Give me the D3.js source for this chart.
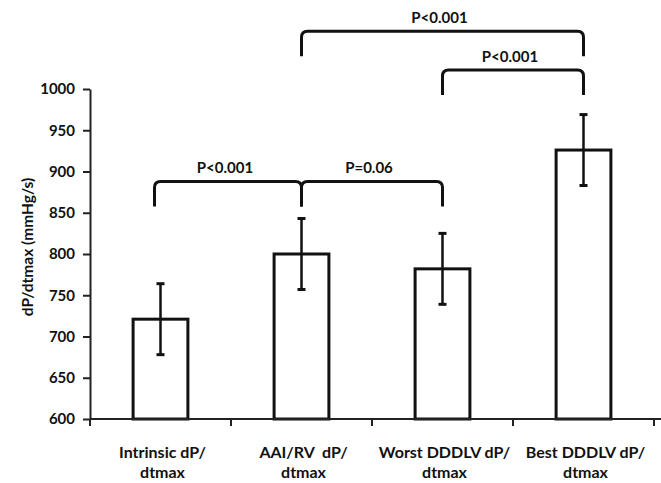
<!DOCTYPE html>
<html>
<head>
<meta charset="utf-8" />
<title></title>
<style>
html, body {
    margin: 0;
    padding: 0;
    background: #fff;
}
svg text {
    font-family: Lato, "Open Sans", sans-serif;
    font-weight: bold;
    fill: #111;
}
.domain, .tick line {
    stroke: #222;
    stroke-width: 2px;
}
</style>
</head>
<body>
<svg id="chart" width="661" height="483"></svg>
<script src="https://cdnjs.cloudflare.com/ajax/libs/d3/7.8.5/d3.min.js"></script>
<script>
// values
var categories = ["Intrinsic", "AAI/RV", "Worst DDDLV", "Best DDDLV"]
var labelLines = [
    ["Intrinsic dP/", "dtmax"],
    ["AAI/RV  dP/", "dtmax"],
    ["Worst DDDLV dP/", "dtmax"],
    ["Best DDDLV dP/", "dtmax"]
]
var means = [721, 800, 782, 926]
var errors = [43, 43, 43, 43]
var yTicks = [600, 650, 700, 750, 800, 850, 900, 950, 1000]

// significance brackets: from bar, to bar, label, height in mmHg/s
var compFrom = [0, 1, 1, 2]
var compTo = [1, 2, 3, 3]
var compLabel = ["P<0.001", "P=0.06", "P<0.001", "P<0.001"]
var compLevel = [888, 888, 1070, 1023]

var svg = d3.select("#chart")

var plotLeft = 90, plotRight = 654, plotTop = 89, plotBottom = 419

var y = d3.scaleLinear().domain([600, 1000]).range([plotBottom, plotTop])
var x = d3.scaleBand().domain(categories).range([plotLeft, plotRight])
    .paddingInner(0.59).paddingOuter(0.295)

var step = x.step()
var cx = function(i) { return x(categories[i]) + x.bandwidth() / 2 }

// y axis
svg.append("g")
    .attr("transform", "translate(" + plotLeft + ",0)")
    .call(d3.axisLeft(y).tickValues(yTicks).tickFormat(d3.format("d"))
        .tickSize(7).tickSizeOuter(0).tickPadding(8))
    .call(function(g) {
        g.selectAll("text").attr("font-size", 15).style("font-family", "Lato, sans-serif")
    })

// bars
svg.append("g").selectAll("rect")
    .data(means)
    .enter()
    .append("rect")
    .attr("x", function(d, i) { return x(categories[i]) + 1.5 })
    .attr("width", x.bandwidth() - 3)
    .attr("y", function(d) { return y(d) })
    .attr("height", function(d) { return plotBottom - y(d) })
    .attr("fill", "white")
    .attr("stroke", "#111")
    .attr("stroke-width", 3)

// x axis line and ticks at category boundaries
var bounds = categories.map(function(c) { return x(c) - step * x.paddingInner() / 2 })
bounds.push(plotRight)
var xa = svg.append("g")
xa.append("line")
    .attr("x1", plotLeft).attr("x2", 661)
    .attr("y1", plotBottom).attr("y2", plotBottom)
    .attr("stroke", "#222").attr("stroke-width", 2)
xa.selectAll("line.tk")
    .data(bounds)
    .enter()
    .append("line")
    .attr("class", "tk")
    .attr("x1", function(d) { return d }).attr("x2", function(d) { return d })
    .attr("y1", plotBottom).attr("y2", plotBottom + 7)
    .attr("stroke", "#222").attr("stroke-width", 2)

// x labels, one text per line
var lab = svg.append("g")
labelLines.forEach(function(lines, i) {
    lines.forEach(function(t, j) {
        lab.append("text")
            .attr("x", cx(i) + 2)
            .attr("y", 458 + j * 20)
            .attr("text-anchor", "middle")
            .attr("font-size", 16)
            .style("white-space", "pre")
            .text(t)
    })
})

// error bars
var eb = svg.append("g").attr("stroke", "#111")
eb.selectAll("line.v")
    .data(means)
    .enter()
    .append("line")
    .attr("class", "v")
    .attr("x1", function(d, i) { return cx(i) }).attr("x2", function(d, i) { return cx(i) })
    .attr("y1", function(d, i) { return y(d + errors[i]) })
    .attr("y2", function(d, i) { return y(d - errors[i]) })
    .attr("stroke-width", 2.5)
;["up", "down"].forEach(function(name) {
    var s = name == "up" ? 1 : -1
    eb.selectAll("line." + name)
        .data(means)
        .enter()
        .append("line")
        .attr("class", name)
        .attr("x1", function(d, i) { return cx(i) - 4 }).attr("x2", function(d, i) { return cx(i) + 4 })
        .attr("y1", function(d, i) { return y(d + s * errors[i]) })
        .attr("y2", function(d, i) { return y(d + s * errors[i]) })
        .attr("stroke-width", 3)
})

// brackets
var leg = 25, r = 6
var br = svg.append("g")
compLabel.forEach(function(label, k) {
    var x1 = cx(compFrom[k]), x2 = cx(compTo[k]), ly = y(compLevel[k])
    if (compFrom[k] == 0) x1 -= 6
    var p = d3.path()
    p.moveTo(x1, ly + leg)
    p.lineTo(x1, ly + r)
    p.quadraticCurveTo(x1, ly, x1 + r, ly)
    p.lineTo(x2 - r, ly)
    p.quadraticCurveTo(x2, ly, x2, ly + r)
    p.lineTo(x2, ly + leg)
    br.append("path")
        .attr("d", p.toString())
        .attr("fill", "none")
        .attr("stroke", "#111")
        .attr("stroke-width", 3)
    br.append("text")
        .attr("x", (x1 + x2) / 2 - 3)
        .attr("y", ly - 8)
        .attr("text-anchor", "middle")
        .attr("font-size", 15)
        .text(label)
})

// y axis title
svg.append("text")
    .attr("transform", "translate(33,247) rotate(-90)")
    .attr("text-anchor", "middle")
    .attr("font-size", 15.5)
    .text("dP/dtmax (mmHg/s)")
</script>
</body>
</html>
